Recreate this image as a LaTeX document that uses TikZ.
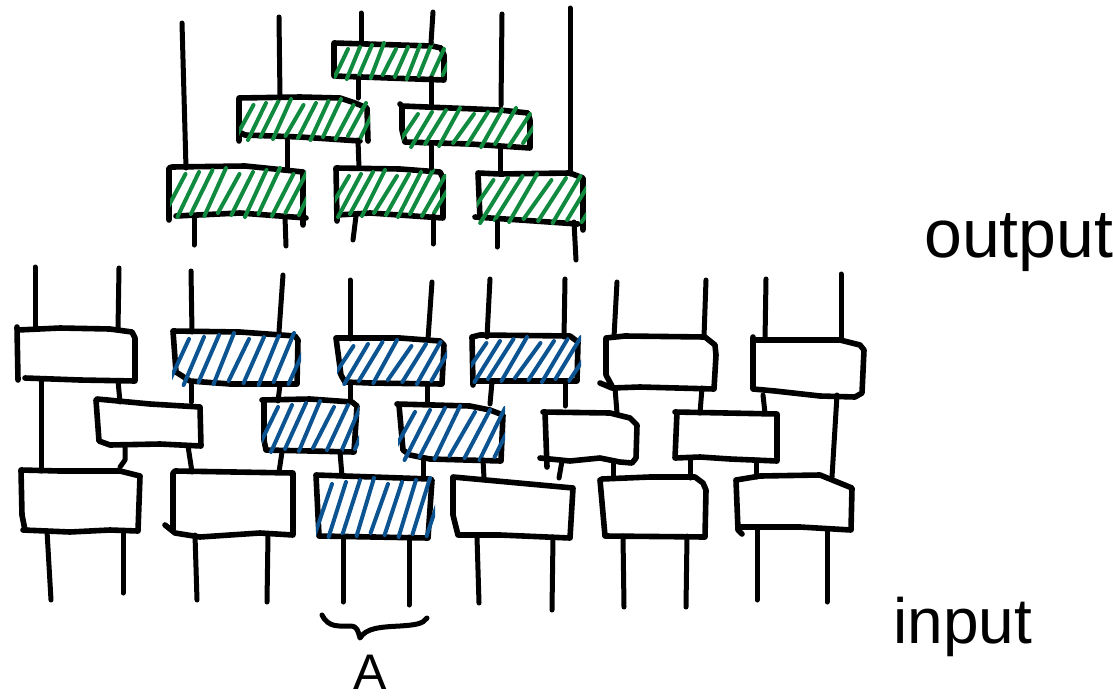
\documentclass[tikz,border=0pt]{standalone}
\usepackage{fontspec}
\setmainfont{Liberation Sans}
\definecolor{penGreen}{HTML}{0F8A3E}
\definecolor{penBlue}{HTML}{0B5491}
\tikzset{
  x=1pt,y=-1pt,
  pen/.style={line width=5.6pt,line cap=round,line join=round,black},
  wire/.style={line width=5pt,line cap=round,line join=round,black},
  hatchline/.style={line width=4pt,line cap=round},
  gatebox/.style={inner sep=0pt,outer sep=0pt,draw=none},
  script/.style={inner sep=0pt,anchor=base west,black},
}
% name, x1, y1, x2, y2, hand-drawn outline
\newcommand{\gate}[6]{%
  \node[gatebox,minimum width={(#4-#2)*1pt},minimum height={(#5-#3)*1pt}] (#1) at ({(#2+#4)/2},{(#3+#5)/2}) {};
  \draw[pen] #6;}
% connector from the bottom of one gate to the top of another
\newcommand{\link}[4]{\draw[wire] (#2,0 |- #1.south) -- (#4,0 |- #3.north);}
% free end above a gate: gate, x at gate, free x, free y
\newcommand{\freeup}[4]{\coordinate (#1-up-#3) at (#3,#4);\draw[wire] (#1-up-#3) -- (#2,0 |- #1.north);}
% free end below a gate
\newcommand{\freedown}[4]{\coordinate (#1-dn-#3) at (#3,#4);\draw[wire] (#2,0 |- #1.south) -- (#1-dn-#3);}
% x1,y1,x2,y2,colour,spacing,slope
\newcommand{\hatchbox}[7]{%
  \begin{scope}
    \clip (#1-2,#2-4) rectangle (#3+3,#4+3);
    \pgfmathsetmacro\hh{#4-#2}
    \pgfmathsetmacro\dxx{\hh*#7}
    \pgfmathtruncatemacro\nn{(#3-#1+\dxx)/#6}
    \foreach \i in {1,...,\nn}{
      \pgfmathsetmacro\xa{#1-\dxx+\i*#6}
      \pgfmathsetmacro\wob{mod(\i*7,5)-2}
      \pgfmathsetmacro\wobb{mod(\i*3,4)-1.5}
      \draw[hatchline,#5] ({\xa},{#4-1+\wob}) -- ({\xa+\dxx},{#2+3+\wobb*2});
    }
  \end{scope}}
\begin{document}
\begin{tikzpicture}
\useasboundingbox (0,0) rectangle (1113,699);
\fill[white] (0,0) rectangle (1113,699);

% ---------- green pyramid ----------
\gate{Ga}{334}{43}{444}{78}{(334,43)--(334,76)--(444,80)--(444,55)--(441,48)--(432,46)--(334,43)}
\gate{Gb}{239}{98}{367}{140}{(239,141)--(239,98)--(300,97)--(340,98)--(355,103)--(367,108)--(368,141) (360,141)--(300,137)--(245,135)--(239,132)}
\gate{Gc}{402}{105}{530}{146}{(400,104)--(402,106)--(500,110)--(528,113)--(530,120)--(530,148)--(470,144)--(405,142)--(402,130)--(402,106)}
\gate{Gd}{172}{168}{303}{217}{(176,216)--(240,213)--(306,218) (303,225)--(303,172)--(265,168)--(245,166)--(172,167)--(169,168)--(169,220)}
\gate{Ge}{336}{168}{443}{216}{(337,221)--(336,168)--(400,169)--(440,172)--(443,178)--(443,218)--(370,213)--(337,215)}
\gate{Gf}{478}{174}{583}{222}{(480,218)--(478,173)--(500,174)--(570,173)--(583,178)--(583,230) (475,217)--(520,220)--(578,224)}

\hatchbox{336}{43}{444}{78}{penGreen}{12}{0.38}
\hatchbox{241}{99}{367}{139}{penGreen}{12.5}{0.45}
\hatchbox{404}{108}{530}{146}{penGreen}{14}{0.55}
\hatchbox{172}{168}{303}{216}{penGreen}{13.5}{0.45}
\hatchbox{337}{170}{443}{216}{penGreen}{12}{0.5}
\hatchbox{479}{174}{583}{222}{penGreen}{14.5}{0.58}

\freeup{Ga}{361}{361}{13}
\freeup{Ga}{431}{433}{12}
\link{Ga}{358}{Gb}{358}
\link{Ga}{431}{Gc}{431}
\freeup{Gb}{280}{279}{17}
\freeup{Gd}{186}{182}{23}
\freeup{Gc}{501}{502}{14}
\freeup{Gf}{570}{570}{8}
\link{Gb}{287}{Gd}{287}
\link{Gb}{358}{Ge}{359}
\link{Gc}{431}{Ge}{431}
\link{Gc}{500}{Gf}{500}
\freedown{Gd}{194}{194}{245}
\freedown{Gd}{285}{286}{246}
\freedown{Ge}{356}{353}{240}
\freedown{Ge}{433}{433}{244}
\freedown{Gf}{497}{497}{247}
\freedown{Gf}{574}{576}{260}

% ---------- top row ----------
\gate{Ta}{18}{329}{135}{381}{(17,327)--(18,380) (18,330)--(60,328)--(110,329)--(132,332)--(135,338)--(135,381)--(80,380)--(25,378)}
\gate{Tb}{173}{332}{298}{385}{(173,331)--(176,372)--(190,381)--(230,384)--(297,384)--(298,340)--(295,336)--(240,332)--(173,331)}
\gate{Tc}{336}{339}{443}{384}{(336,338)--(341,375)--(345,382)--(370,383)--(442,384)--(444,345)--(440,341)--(400,338)--(336,338)}
\gate{Td}{472}{337}{578}{382}{(473,385)--(472,337)--(480,335)--(570,336)--(578,342)--(577,381)--(473,381)}
\gate{Te}{606}{337}{715}{388}{(606,338)--(625,336)--(705,337)--(715,345)--(716,355)--(714,389)--(640,387)--(612,388)--(600,383) (606,338)--(606,375)--(612,386)}
\gate{Tf}{753}{340}{864}{395}{(753,337)--(753,389)--(775,391)--(820,396)--(855,397)--(862,393)--(864,350)--(860,345)--(840,340)--(753,340)}

% ---------- middle row ----------
\gate{Ma}{98}{402}{201}{446}{(96,400)--(99,441)--(110,445)--(160,444)--(201,446)--(200,407)--(150,404)--(97,399)}
\gate{Mb}{263}{401}{356}{452}{(262,400)--(310,399)--(352,402)--(357,406)--(354,452)--(266,450)--(264,440)--(264,402)}
\gate{Mc}{398}{404}{502}{460}{(397,404)--(470,406)--(490,410)--(503,415)--(501,461)--(430,459)--(410,455)--(403,450)--(399,405)}
\gate{Md}{545}{413}{636}{461}{(547,467)--(545,412) (543,412)--(610,413)--(630,418)--(637,425)--(636,458)--(632,463)--(620,462)--(600,458)--(570,461)--(540,458)}
\gate{Me}{677}{413}{777}{460}{(675,412)--(777,414)--(777,461)--(730,459)--(700,457)--(675,458)--(677,412)}

% ---------- bottom row ----------
\gate{Ba}{21}{471}{139}{531}{(21,470)--(60,471)--(120,471)--(140,476)--(138,531)--(110,530)--(70,532)--(23,530) (21,470)--(22,515)--(25,530)}
\gate{Bb}{173}{472}{294}{535}{(173,473)--(175,471)--(293,473)--(293,535)--(260,533)--(200,537)--(175,533)--(165,525) (173,473)--(173,530)}
\gate{Bc}{317}{476}{432}{537}{(316,475)--(430,479)--(432,480)--(428,538)--(319,536)--(316,475)}
\gate{Bd}{453}{478}{572}{537}{(453,477)--(573,488)--(570,538)--(500,535)--(458,535)--(453,515)--(453,477)}
\gate{Be}{601}{478}{705}{536}{(600,480)--(602,479)--(650,477)--(695,477)--(703,483)--(706,490)--(705,537)--(605,536)--(600,480)}
\gate{Bf}{736}{477}{851}{530}{(742,534)--(738,530)--(736,480)--(760,476)--(820,475)--(852,488)--(851,530)--(800,527)--(740,527)}

\hatchbox{174}{333}{298}{384}{penBlue}{15}{0.4}
\hatchbox{339}{340}{444}{383}{penBlue}{14.5}{0.55}
\hatchbox{473}{337}{578}{381}{penBlue}{13.5}{0.58}
\hatchbox{264}{401}{356}{451}{penBlue}{14}{0.42}
\hatchbox{400}{406}{502}{459}{penBlue}{15}{0.48}
\hatchbox{318}{478}{432}{536}{penBlue}{14}{0.3}

% ---------- free ends, top ----------
\freeup{Ta}{35}{35}{267}
\freeup{Ta}{118}{119}{268}
\freeup{Tb}{192}{191}{271}
\freeup{Tb}{279}{283}{275}
\freeup{Tc}{350}{350}{280}
\freeup{Tc}{428}{432}{282}
\freeup{Td}{487}{490}{279}
\freeup{Td}{564}{565}{279}
\freeup{Te}{614}{617}{282}
\freeup{Te}{704}{706}{280}
\freeup{Tf}{765}{766}{279}
\freeup{Tf}{841}{841}{274}

% ---------- links between rows ----------
\link{Ta}{41}{Ba}{41}
\link{Ta}{118}{Ma}{120}
\link{Tb}{191}{Ma}{191}
\link{Tb}{280}{Mb}{278}
\link{Tc}{350}{Mb}{350}
\link{Tc}{427}{Mc}{427}
\link{Td}{492}{Mc}{490}
\freedown{Td}{565}{565}{406}
\link{Te}{615}{Md}{617}
\link{Te}{702}{Me}{700}
\link{Tf}{763}{Me}{765}
\link{Tf}{837}{Bf}{832}
\coordinate (Ma-hook) at (120,467);
\draw[wire] (125,0 |- Ma.south) -- (125,460) -- (Ma-hook);
\link{Ma}{188}{Bb}{192}
\link{Mb}{282}{Bb}{279}
\link{Mb}{340}{Bc}{342}
\link{Mc}{423}{Bc}{423}
\link{Mc}{483}{Bd}{484}
\link{Md}{562}{Bd}{559}
\link{Md}{613}{Be}{613}
\link{Me}{690}{Be}{690}
\link{Me}{756}{Bf}{756}

% ---------- free ends, bottom ----------
\freedown{Ba}{47}{51}{600}
\freedown{Ba}{123}{123}{593}
\freedown{Bb}{195}{197}{600}
\freedown{Bb}{268}{267}{602}
\freedown{Bc}{343}{343}{602}
\freedown{Bc}{409}{409}{605}
\freedown{Bd}{477}{479}{603}
\freedown{Bd}{553}{552}{610}
\freedown{Be}{623}{624}{607}
\freedown{Be}{687}{686}{607}
\freedown{Bf}{757}{757}{600}
\freedown{Bf}{827}{827}{602}

% ---------- brace ----------
\draw[wire] (322,615) .. controls (328,628) and (340,626) .. (350,626)
  .. controls (358,626) and (358,632) .. (360,638)
  .. controls (366,628) and (380,627) .. (400,626)
  .. controls (415,625) and (423,624) .. (427,618);

% ---------- labels ----------
\node[script,font=\fontsize{68}{68}\selectfont] (outlabel) at (924,257) {output};
\node[script,font=\fontsize{64}{64}\selectfont] (inlabel) at (893,643) {input};
\node[script,font=\fontsize{50}{50}\selectfont] (alabel) at (353,689) {A};
\end{tikzpicture}
\end{document}
